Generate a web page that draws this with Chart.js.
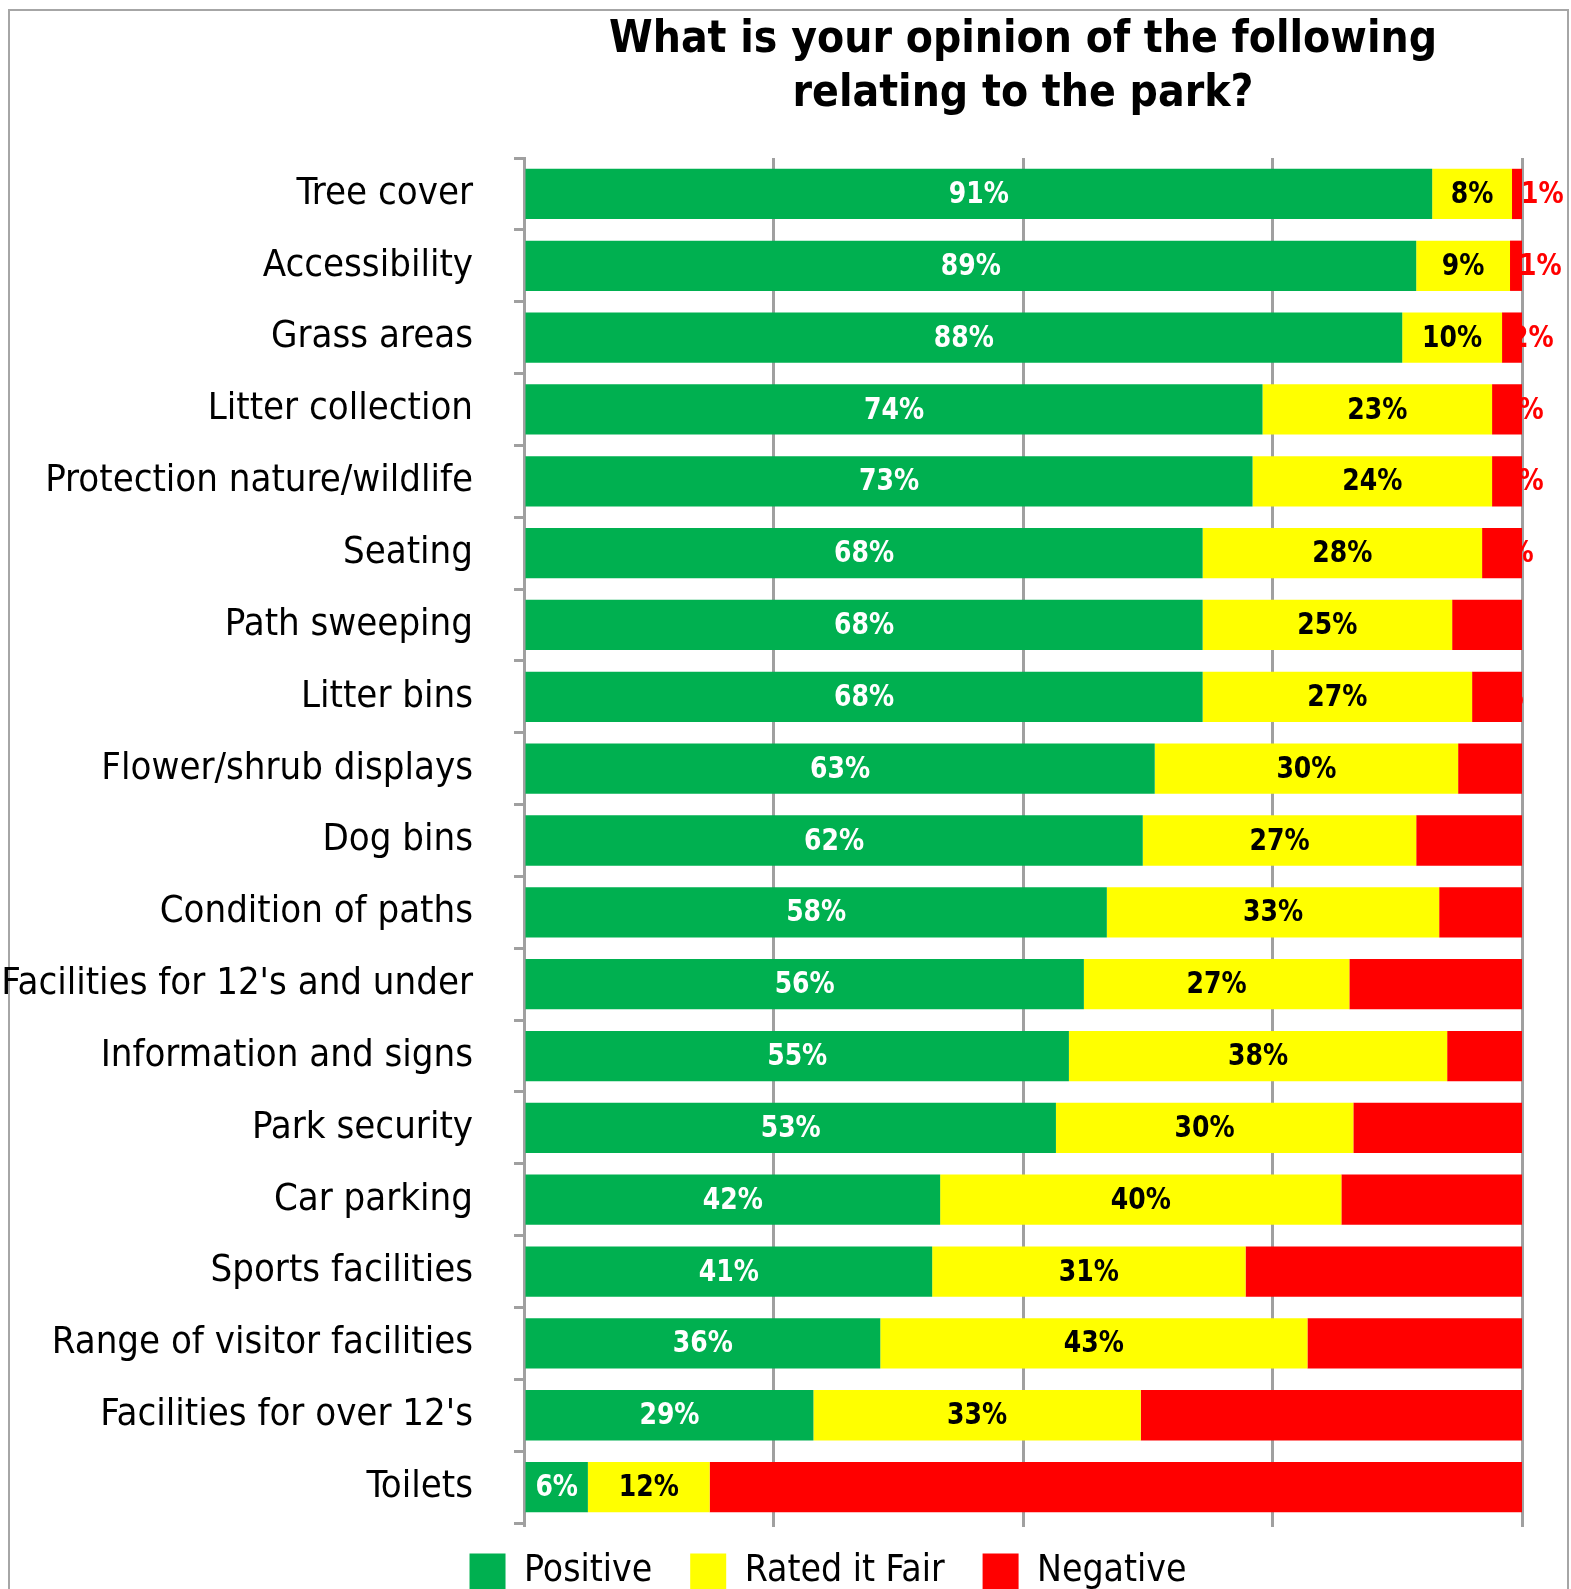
<!DOCTYPE html>
<html>
<head>
<meta charset="utf-8">
<title>Park opinion</title>
<script src="https://cdn.jsdelivr.net/npm/chart.js@4.4.0/dist/chart.umd.min.js"></script>
<style>
  html, body { margin: 0; padding: 0; background: #fff; }
  #chart { display: block; }
</style>
</head>
<body>
<canvas id="chart" width="1571" height="1589"></canvas>
<script>
// ---------------------------------------------------------------
// DATA (percent of respondents)
// ---------------------------------------------------------------

const categories = [
  "Tree cover", "Accessibility", "Grass areas", "Litter collection",
  "Protection nature/wildlife", "Seating", "Path sweeping", "Litter bins",
  "Flower/shrub displays", "Dog bins", "Condition of paths",
  "Facilities for 12's and under", "Information and signs", "Park security",
  "Car parking", "Sports facilities", "Range of visitor facilities",
  "Facilities for over 12's", "Toilets"
];

const positive = [91, 89.4, 88, 74, 73, 68, 68, 68, 63.2, 62, 58.4, 56.1, 54.6, 53.3, 41.7, 40.9, 35.7, 29, 6.4];
const fair     = [8, 9.4, 10, 23, 24, 28, 25, 27, 30.4, 27.4, 33.3, 26.6, 37.9, 29.8, 40.2, 31.4, 42.8, 32.8, 12.2];
const negative = [1, 1.2, 2, 3, 3, 4, 7, 5, 6.4, 10.6, 8.3, 17.3, 7.5, 16.9, 18.1, 27.7, 21.5, 38.2, 81.4];

const seriesNames = ["Positive", "Rated it Fair", "Negative"];
const xTicks = [0, 25, 50, 75, 100];

const titleLines = ["What is your opinion of the following", "relating to the park?"];

// ---------------------------------------------------------------
// LOOK
// ---------------------------------------------------------------

const FONT = '"DejaVu Sans Condensed", "DejaVu Sans", sans-serif';
const GREEN = "#00b050", YELLOW = "#ffff00", RED = "#ff0000";
const AXIS_GREY = "#a0a0a0";

// outer frame of the chart object
const frame = {
  id: "frame",
  beforeDraw(chart) {
    const ctx = chart.ctx;
    ctx.save();
    ctx.strokeStyle = "#a6a6a6";
    ctx.lineWidth = 2;
    ctx.strokeRect(9, 10, 1559, 1600);
    ctx.restore();
  }
};

// legend sits a bit right of the canvas centre and close under the axis
const legendShift = {
  id: "legendShift",
  afterLayout(chart) {
    const lg = chart.legend;
    lg.left += 67; lg.right += 67;
    lg.top -= 12; lg.bottom -= 12;
  }
};

// value labels inside / next to each segment (narrow bold face)
function drawNarrow(ctx, txt, x, y) {
  ctx.save();
  ctx.translate(x, y);
  ctx.scale(0.9, 1);
  ctx.fillText(txt, 0, 0);
  ctx.restore();
}

const barLabels = {
  id: "barLabels",
  afterDatasetsDraw(chart) {
    const ctx = chart.ctx;
    ctx.save();
    ctx.font = "bold 31px " + FONT;
    ctx.textBaseline = "middle";
    chart.data.datasets.forEach((ds, di) => {
      chart.getDatasetMeta(di).data.forEach((bar, i) => {
        const txt = Math.round(ds.data[i]) + "%";
        if (di === 2) {
          ctx.fillStyle = RED;
          ctx.textAlign = "left";
          drawNarrow(ctx, txt, bar.base + 9, bar.y + 1);
        } else {
          ctx.fillStyle = di === 0 ? "#ffffff" : "#000000";
          ctx.textAlign = "center";
          drawNarrow(ctx, txt, (bar.x + bar.base) / 2, bar.y + 1);
        }
      });
    });
    ctx.restore();
  }
};

new Chart(document.getElementById("chart"), {
  type: "bar",
  data: {
    labels: categories,
    datasets: [
      { label: seriesNames[0], data: positive, backgroundColor: GREEN },
      { label: seriesNames[1], data: fair,     backgroundColor: YELLOW },
      { label: seriesNames[2], data: negative, backgroundColor: RED }
    ]
  },
  options: {
    indexAxis: "y",
    responsive: false,
    animation: false,
    datasets: { bar: { categoryPercentage: 1, barPercentage: 0.7, borderWidth: 0 } },
    layout: { padding: { left: 0, right: 49, top: 0, bottom: -23 } },
    scales: {
      x: {
        stacked: true,
        min: 0, max: 100,
        afterBuildTicks: s => { s.ticks = xTicks.map(v => ({ value: v })); },
        ticks: { display: false },
        grid: { color: AXIS_GREY, lineWidth: 3, drawTicks: true, tickLength: 4 },
        border: { display: false }
      },
      y: {
        stacked: true,
        afterFit: s => { s.width = 524; },
        ticks: { color: "#000", padding: 41, font: { family: FONT, size: 38 } },
        grid: { offset: true, drawOnChartArea: false, drawTicks: true, tickLength: 10, color: AXIS_GREY, lineWidth: 3 },
        border: { color: AXIS_GREY, width: 3 }
      }
    },
    plugins: {
      title: {
        display: true,
        text: titleLines,
        fullSize: false,
        color: "#000",
        font: { family: FONT, size: 44, weight: "bold", lineHeight: 1.216 },
        padding: { top: 14, bottom: 37 }
      },
      legend: {
        position: "bottom",
        labels: {
          color: "#000",
          boxWidth: 36, boxHeight: 36,
          padding: 38,
          font: { family: FONT, size: 37 }
        }
      },
      tooltip: { enabled: false }
    }
  },
  plugins: [frame, legendShift, barLabels]
});
</script>
</body>
</html>
